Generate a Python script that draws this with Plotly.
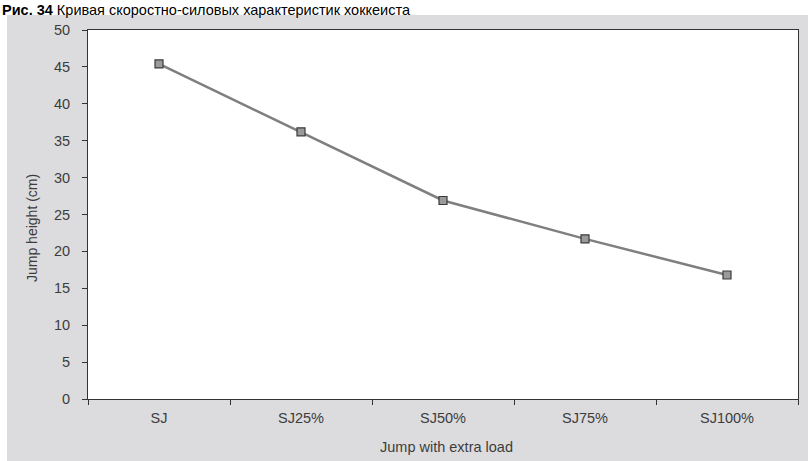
import plotly.graph_objects as go

categories = ["SJ", "SJ25%", "SJ50%", "SJ75%", "SJ100%"]
jump_height = [45.4, 36.2, 26.9, 21.7, 16.8]
y_ticks = [0, 5, 10, 15, 20, 25, 30, 35, 40, 45, 50]

W, H = 808, 461
ML, MR, MT, MB = 88, 10, 30, 62
pw = W - ML - MR
ph = H - MT - MB


def px_x(x):
    return (x - ML) / pw


def px_y(y):
    return (H - MB - y) / ph


fig = go.Figure()
fig.add_trace(go.Scatter(
    x=categories, y=jump_height, mode="lines+markers",
    line=dict(color="#7f7f7f", width=2.5),
    marker=dict(symbol="square", size=8, color="#9a9a9a",
                line=dict(color="#3a3a3a", width=1.2)),
    showlegend=False,
))

font_family = "Liberation Sans, Arial, sans-serif"
txt = "#3c3c3c"

fig.update_layout(
    width=W, height=H,
    margin=dict(l=ML, r=MR, t=MT, b=MB, autoexpand=False),
    paper_bgcolor="#dcdcdf",
    plot_bgcolor="white",
    font=dict(family=font_family, color=txt, size=14),
    xaxis=dict(
        type="category", range=[-0.5, 4.5], automargin=False,
        showline=True, linecolor="#333", linewidth=1, mirror=True,
        ticks="outside", ticklen=5, tickcolor="#333", tickson="boundaries",
        showgrid=False, zeroline=False,
        tickfont=dict(size=14.5, color=txt),
        ticklabelstandoff=6,
    ),
    yaxis=dict(
        range=[0, 50], tickvals=y_ticks, automargin=False,
        showline=True, linecolor="#333", linewidth=1, mirror=True,
        ticks="outside", ticklen=5, tickcolor="#333",
        showgrid=False, zeroline=False,
        tickfont=dict(size=14.5, color=txt),
        ticklabelstandoff=9,
    ),
    shapes=[
        dict(type="rect", xref="paper", yref="paper", layer="below",
             x0=px_x(0), x1=px_x(7), y0=px_y(H), y1=px_y(0),
             fillcolor="white", line=dict(width=0)),
        dict(type="rect", xref="paper", yref="paper", layer="below",
             x0=px_x(0), x1=px_x(W), y0=px_y(15), y1=px_y(0),
             fillcolor="white", line=dict(width=0)),
    ],
    annotations=[
        dict(xref="paper", yref="paper", xanchor="left", yanchor="top",
             x=px_x(0), y=px_y(0),
             text="<b>Рис. 34</b> Кривая скоростно-силовых характеристик хоккеиста",
             showarrow=False, font=dict(family=font_family, size=14.5, color="black")),
        dict(xref="paper", yref="paper", xanchor="center", yanchor="middle",
             x=px_x(446), y=px_y(447), text="Jump with extra load",
             showarrow=False, font=dict(size=14.5, color=txt)),
        dict(xref="paper", yref="paper", xanchor="center", yanchor="middle",
             x=px_x(32), y=px_y(228), text="Jump height (cm)", textangle=-90,
             showarrow=False, font=dict(size=14, color=txt)),
    ],
)

fig.write_html("out.html", config={"displayModeBar": False},
               post_script="document.body.style.margin='0';")
